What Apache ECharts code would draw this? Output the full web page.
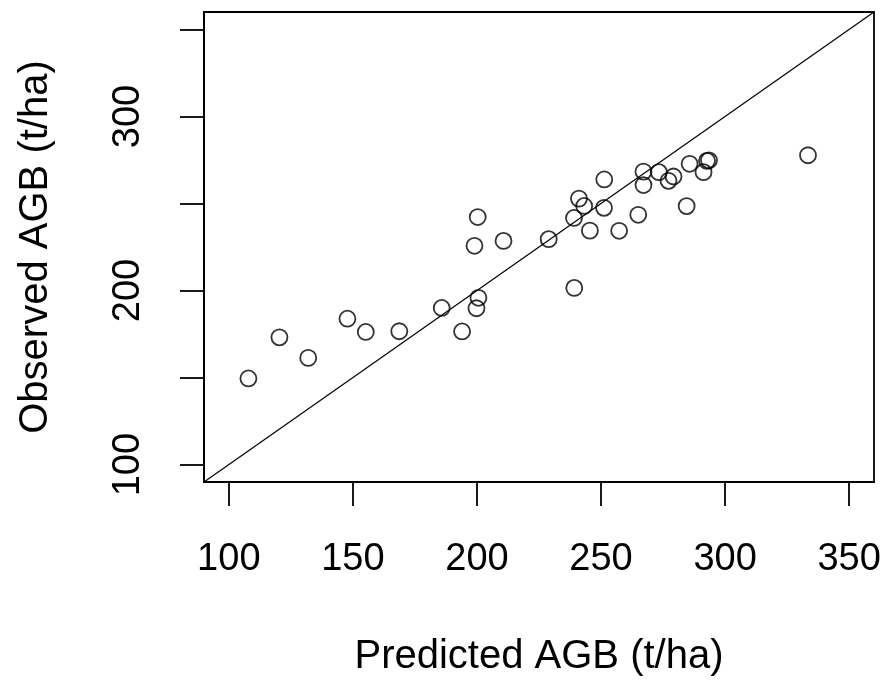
<!DOCTYPE html>
<html>
  <head>
    <meta charset="utf-8">
    <title>Observed vs Predicted AGB</title>
    <style>
    html,body,#chart {
      margin: 0;
      padding: 0;
      width: 886px;
      height: 682px;
      background: #fff;
    }
    </style>
  </head>
  <body>
    <div id="chart"></div>

    <script src="https://cdn.jsdelivr.net/npm/echarts@6/dist/echarts.min.js"></script>

    <script type="text/javascript">
    // predicted (x) / observed (y) AGB in t/ha
    var predicted = [107.9, 120.4, 132.0, 147.8, 155.2, 168.7, 185.8, 194.0, 200.3, 199.0,
                     210.7, 200.6, 199.8, 228.9, 239.2, 239.1, 241.1, 243.2, 251.2, 245.5,
                     257.3, 251.3, 265.0, 284.5, 267.1, 267.1, 273.3, 277.2, 279.2, 285.7,
                     291.3, 292.7, 293.5, 333.4]
    var observed  = [149.5, 173.1, 161.3, 183.8, 176.2, 176.6, 190.0, 176.5, 242.2, 225.7,
                     228.5, 195.8, 189.8, 229.5, 201.5, 241.7, 252.8, 248.6, 247.5, 234.4,
                     234.3, 263.8, 243.5, 248.5, 268.3, 260.6, 268.0, 263.0, 265.5, 272.8,
                     268.0, 274.5, 274.8, 277.7]
    // 1:1 line across the plot region
    var oneToOne = [90, 360]
    var xTicks = [100, 150, 200, 250, 300, 350]
    var yTicks = [100, 150, 200, 250, 300, 350]
    var yTickLabels = [100, 200, 300]

    var points = []
    for (var i = 0; i < predicted.length; i++) {
        points.push([predicted[i], observed[i]])
    }
    var linePts = oneToOne.map(function (v) { return [v, v] })

    var font = '"Liberation Sans", Arial, sans-serif'
    var chart = echarts.init(document.getElementById('chart'))
    chart.setOption({
        animation: false,
        backgroundColor: '#fff',
        grid: {
            left: 204, right: 12, top: 12, bottom: 198,
            show: true, borderColor: '#000', borderWidth: 1.8
        },
        xAxis: {
            type: 'value', min: 90, max: 360,
            name: 'Predicted AGB (t/ha)', nameLocation: 'middle', nameGap: 155,
            nameTextStyle: { fontFamily: font, fontSize: 40, color: '#000' },
            axisLine: { show: true, lineStyle: { color: '#000', width: 1.8 } },
            axisTick: { show: true, length: 24, customValues: xTicks, lineStyle: { color: '#000', width: 1.8 } },
            axisLabel: { customValues: xTicks, margin: 59, fontFamily: font, fontSize: 38, color: '#000' },
            splitLine: { show: false }
        },
        yAxis: {
            type: 'value', min: 90, max: 360,
            name: 'Observed AGB (t/ha)', nameLocation: 'middle', nameGap: 148, nameRotate: 90,
            nameTextStyle: { fontFamily: font, fontSize: 40, color: '#000' },
            axisLine: { show: true, lineStyle: { color: '#000', width: 1.8 } },
            axisTick: { show: true, length: 24, customValues: yTicks, lineStyle: { color: '#000', width: 1.8 } },
            axisLabel: { customValues: yTickLabels, rotate: 90, margin: 56, fontFamily: font, fontSize: 38, color: '#000' },
            splitLine: { show: false }
        },
        series: [{
            type: 'line',
            data: linePts,
            symbol: 'none',
            silent: true,
            lineStyle: { color: '#000', width: 1.2 }
        }, {
            type: 'scatter',
            data: points,
            symbol: 'circle',
            symbolSize: 16,
            itemStyle: { color: 'transparent', borderColor: '#000', borderWidth: 1.8 }
        }]
    })
    </script>
  </body>
</html>
